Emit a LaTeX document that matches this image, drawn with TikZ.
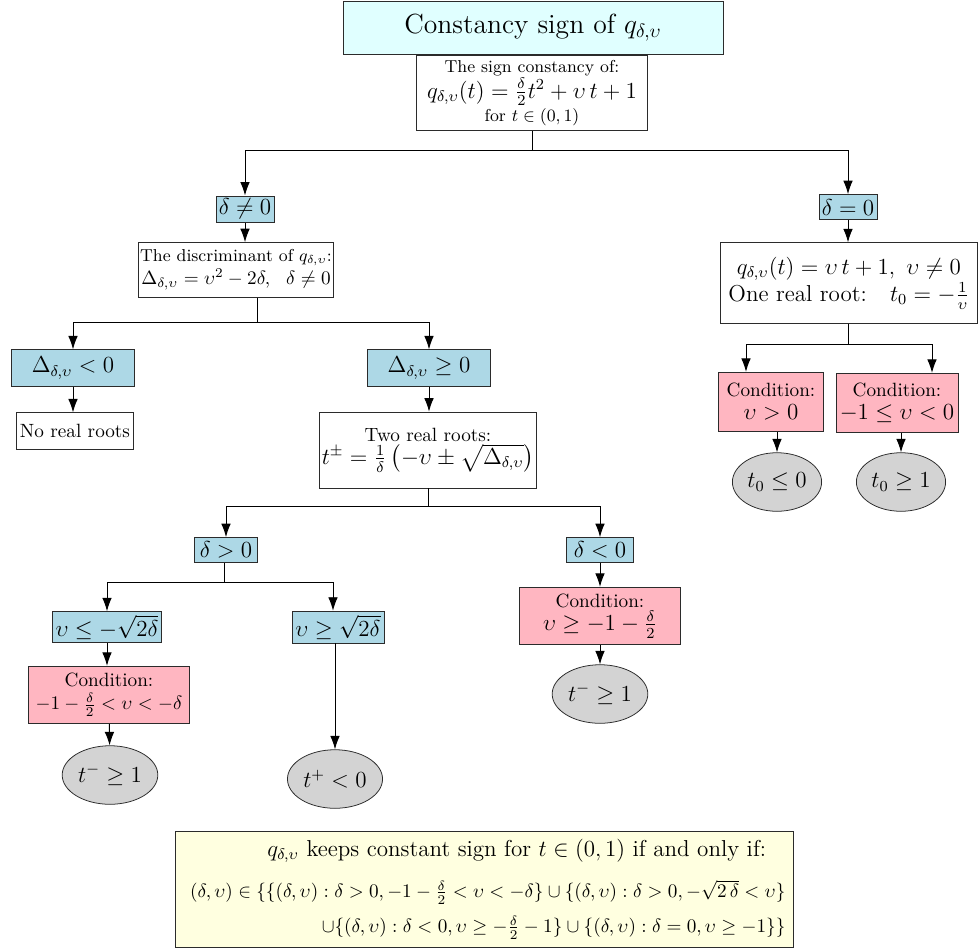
\documentclass[tikz,border=0pt]{standalone}
\usepackage{amsmath,amssymb}
\usetikzlibrary{arrows.meta,calc,shapes.geometric}
\definecolor{ink}{HTML}{2B2B2B}
\definecolor{head}{HTML}{E0FFFF}
\definecolor{casefill}{HTML}{ADD8E6}
\definecolor{condfill}{HTML}{FFB6C1}
\definecolor{rootfill}{HTML}{D3D3D3}
\definecolor{notefill}{HTML}{FFFFE0}
\tikzset{
  headbox/.style={draw=ink,fill=head,minimum width=198pt,minimum height=27.6pt,font=\Large,inner sep=2pt},
  plainbox/.style={draw=ink,fill=white,align=center,inner sep=2pt},
  casebox/.style={draw=ink,fill=casefill,font=\large,inner sep=1.5pt,minimum height=13pt},
  condbox/.style={draw=ink,fill=condfill,align=center,inner sep=2pt,minimum height=30pt},
  rootnode/.style={draw=ink,fill=rootfill,ellipse,minimum width=42pt,minimum height=30.5pt,font=\large,inner sep=1pt},
  notebox/.style={draw=ink,fill=notefill,align=flush right,text width=314pt,minimum height=58pt,inner sep=4pt},
  flow/.style={-{Latex[length=7pt,width=5pt]},draw=black,line width=0.5pt},
  link/.style={draw=black,line width=0.5pt}
}
\begin{document}
\begin{tikzpicture}[x=0.521pt,y=-0.521pt]
  \useasboundingbox (0,0) rectangle (978,949);
  % top of the tree
  \node[headbox] (title) at (533,28) {Constancy sign of $q_{\delta,\upsilon}$};
  \node[plainbox,minimum width=120pt,minimum height=39pt,inner sep=1pt] (sign) at (532,93)
    {{\small The sign constancy of:}\\ {\large $q_{\delta,\upsilon}(t)=\frac{\delta}{2}t^2+\upsilon\,t+1$}\\ {\small for $t\in(0,1)$}};
  \coordinate (j1) at (532,150);
  \node[casebox] (dne) at (245,209) {$\delta\neq0$};
  \node[casebox] (dzero) at (848,207) {$\delta=0$};
  \draw[link] (sign) -- (j1);
  \draw[flow] (j1) -| (dne);
  \draw[flow] (j1) -| (dzero);
  % delta not zero
  \node[plainbox,minimum width=100pt,minimum height=28.6pt,inner sep=1pt] (disc) at (236,270)
    {{\small The discriminant of $q_{\delta,\upsilon}$:}\\ $\Delta_{\delta,\upsilon}=\upsilon^2-2\delta,\ \ \delta\neq0$};
  \draw[flow] (dne) -- (dne |- disc.north);
  \coordinate (j2) at (257,322);
  \node[casebox,minimum width=64pt,minimum height=19pt] (dneg) at (73,368) {$\Delta_{\delta,\upsilon}<0$};
  \node[casebox,minimum width=64pt,minimum height=19pt] (dpos) at (429,368) {$\Delta_{\delta,\upsilon}\geq0$};
  \draw[link] (disc.south -| j2) -- (j2);
  \draw[flow] (j2) -| (dneg);
  \draw[flow] (j2) -| (dpos);
  \node[plainbox,minimum width=61pt,minimum height=19pt] (noroot) at (75,431) {No real roots};
  \draw[flow] (dneg) -- (dneg |- noroot.north);
  \node[plainbox,minimum width=111pt,minimum height=39.6pt,inner sep=1pt] (tworoot) at (428,450)
    {Two real roots:\\ {\large $t^{\pm}=\frac{1}{\delta}\left(-\upsilon\pm\sqrt{\Delta_{\delta,\upsilon}}\right)$}};
  \draw[flow] (dpos) -- (dpos |- tworoot.north);
  \coordinate (j3) at (428,506);
  \node[casebox,minimum width=33pt] (dgt) at (226,550) {$\delta>0$};
  \node[casebox,minimum width=35pt] (dlt) at (600,550) {$\delta<0$};
  \draw[link] (tworoot) -- (j3);
  \draw[flow] (j3) -| (dgt);
  \draw[flow] (j3) -| (dlt);
  % delta positive
  \coordinate (j4) at (224,582);
  \node[casebox,minimum width=55pt,minimum height=16pt] (vle) at (107,627) {$\upsilon\leq-\sqrt{2\delta}$};
  \node[casebox,minimum width=48pt,minimum height=16.6pt] (vge) at (338,627) {$\upsilon\geq\sqrt{2\delta}$};
  \draw[link] (dgt.south -| j4) -- (j4);
  \draw[flow] (j4) -| (vle);
  \draw[flow] (j4) -| ($(vge.north)+(-5,0)$);
  \node[condbox,minimum width=84pt] (condA) at (109,695) {Condition:\\ $-1-\frac{\delta}{2}<\upsilon<-\delta$};
  \draw[flow] (vle) -- (vle |- condA.north);
  \node[rootnode] (tmA) at (110,775) {$t^-\geq1$};
  \draw[flow] (condA) -- (tmA);
  \node[rootnode] (tpB) at (335,779) {$t^+<0$};
  \draw[flow] (tpB |- vge.south) -- (tpB);
  % delta negative
  \node[condbox,minimum width=84pt] (condB) at (600,616) {Condition:\\ {\large $\upsilon\geq-1-\frac{\delta}{2}$}};
  \draw[flow] (dlt) -- (condB);
  \node[rootnode] (tmC) at (600,694) {$t^-\geq1$};
  \draw[flow] (condB) -- (tmC);
  % delta zero
  \node[plainbox,minimum width=134pt,minimum height=42pt,font=\large] (linear) at (849,283)
    {$q_{\delta,\upsilon}(t)=\upsilon\,t+1,\ \upsilon\neq0$\\ One real root:\quad $t_0=-\frac{1}{\upsilon}$};
  \draw[flow] (dzero) -- (dzero |- linear.north);
  \coordinate (j5) at (848,344);
  \coordinate (j5l) at (746,344);
  \coordinate (j5r) at (932,344);
  \node[condbox,minimum width=55pt,minimum height=31pt] (condD) at (771,402) {Condition:\\ {\large $\upsilon>0$}};
  \node[condbox,minimum width=54pt,minimum height=31pt] (condE) at (897,403) {Condition:\\ {\large $-1\leq\upsilon<0$}};
  \draw[link] (linear.south -| j5) -- (j5);
  \draw[link] (j5l) -- (j5r);
  \draw[flow] (j5l) -- (j5l |- condD.north);
  \draw[flow] (j5r) -- (j5r |- condE.north);
  \node[rootnode] (t0A) at (777,482) {$t_0\leq0$};
  \node[rootnode] (t0B) at (901,482) {$t_0\geq1$};
  \draw[flow] (t0A |- condD.south) -- (t0A);
  \draw[flow] (t0B |- condE.south) -- (t0B);
  % summary
  \node[notebox] (summary) at (484,889)
    {{\large $q_{\delta,\upsilon}$ keeps constant sign for $t\in(0,1)$ if and only if:}\rule{10pt}{0pt}\\[8pt]
     $(\delta,\upsilon)\in\{\{(\delta,\upsilon):\delta>0,-1-\frac{\delta}{2}<\upsilon<-\delta\}\cup\{(\delta,\upsilon):\delta>0,-\sqrt{2\,\delta}<\upsilon\}$\\[5pt]
     $\cup\{(\delta,\upsilon):\delta<0,\upsilon\geq-\frac{\delta}{2}-1\}\cup\{(\delta,\upsilon):\delta=0,\upsilon\geq-1\}\}$};
\end{tikzpicture}
\end{document}
